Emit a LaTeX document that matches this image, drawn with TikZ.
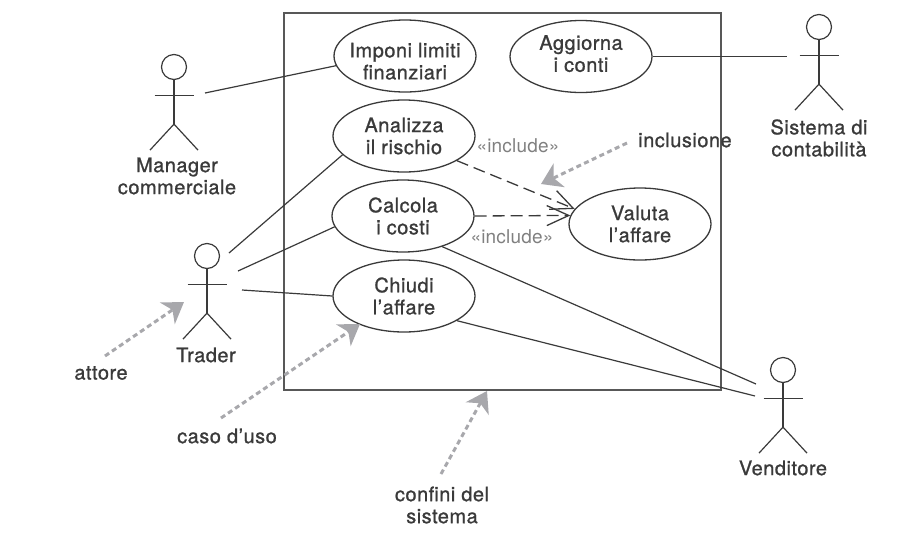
\documentclass[tikz,border=0pt]{standalone}
\usepackage{fontspec}
\usepackage{tikz}
\setmainfont[FakeBold=1,LetterSpace=2.5]{TeX Gyre Heros}
\newfontfamily\stereofont[LetterSpace=1]{TeX Gyre Heros}
\usetikzlibrary{positioning,arrows.meta,shapes.geometric}
\definecolor{inkgray}{HTML}{3A3A3A}
\definecolor{notegray}{HTML}{A8A8AC}
\tikzset{
    usecase/.style={ellipse, draw=inkgray, line width=1.3pt, minimum width=142pt, minimum height=72pt, inner sep=-20pt, align=center, font=\fontsize{20}{22}\selectfont, text=inkgray},
    actorhead/.style={circle, draw=inkgray, line width=1.2pt, minimum size=25pt, inner sep=0pt},
    actorline/.style={draw=inkgray, line width=1.2pt},
    label/.style={align=center, inner sep=0pt, font=\fontsize{20}{22}\selectfont, text=inkgray},
    stereo/.style={inner sep=0pt, font=\stereofont\fontsize{19}{22}\selectfont, text=gray},
    assoc/.style={draw=inkgray, line width=1.2pt},
    incl/.style={draw=inkgray, line width=1.3pt, dash pattern=on 12pt off 6pt, -{Straight Barb[length=22pt,width=20pt]}},
    note/.style={draw=notegray, line width=3pt, dash pattern=on 5pt off 3.5pt, -{Stealth[length=20pt,width=26pt,inset=6pt]}}
}
\newcommand{\actor}[2]{
    \node[actorhead] (#1) at (#2) {};
    \draw[actorline] (#1.south) -- ++(0,44) coordinate (#1hip);
    \draw[actorline] ([xshift=-19.5pt,yshift=-28.5pt]#1.center) -- ([xshift=19.5pt,yshift=-28.5pt]#1.center);
    \draw[actorline] ([xshift=-24pt,yshift=-26pt]#1hip) -- (#1hip) -- ([xshift=24pt,yshift=-26pt]#1hip);
}
\begin{document}
\begin{tikzpicture}[x=1pt,y=-1pt]
    \useasboundingbox (0,0) rectangle (914,550);

    % System boundary
    \draw[draw=inkgray!85, line width=1.6pt] (284,13) rectangle (721,390);

    % Use cases
    \node[usecase] (imponi) at (405,56) {\rule{0pt}{25pt}Imponi limiti\\finanziari};
    \node[usecase] (aggiorna) at (581,56.5) {Aggiorna\\i conti\rule[-6pt]{0pt}{6pt}};
    \node[usecase] (analizza) at (404,136) {Analizza\\il rischio};
    \node[usecase] (calcola) at (403,216) {Calcola\\i costi};
    \node[usecase] (chiudi) at (404,296) {Chiudi\\l'affare};
    \node[usecase] (valuta) at (640,224) {Valuta\\l'affare};

    % Actors
    \actor{manager}{174,67}
    \actor{trader}{207,256}
    \actor{sistema}{819,27}
    \actor{venditore}{783,370}
    \node[label] (managerlabel) at (177,176) {Manager\\commerciale};
    \node[label] (traderlabel) at (206,355) {Trader};
    \node[label] (sistemalabel) at (819,138) {Sistema di\\contabilità};
    \node[label] (venditorelabel) at (783,468) {Venditore};

    % Free ends of the associations
    \coordinate (managerend) at (205,93);
    \coordinate (traderendA) at (229,253);
    \coordinate (traderendB) at (238,271);
    \coordinate (traderendC) at (242,290);
    \coordinate (venditoreendA) at (756,384);
    \coordinate (venditoreendB) at (755,396);
    \coordinate (sistemaend) at (787,56.5);

    % Associations
    \draw[assoc] (managerend) -- (imponi.188);
    \draw[assoc] (traderendA) -- (analizza.197);
    \draw[assoc] (traderendB) -- (calcola.189);
    \draw[assoc] (traderendC) -- (chiudi.west);
    \draw[assoc] (calcola.322) -- (venditoreendA);
    \draw[assoc] (chiudi.335) -- (venditoreendB);
    \draw[assoc] (aggiorna.east) -- (sistemaend);

    % Include relations
    \draw[incl] (analizza.335) -- (valuta.167);
    \draw[incl] (calcola.east) -- (valuta.173);
    \node[stereo] (includeA) at (518,146) {«include»};
    \node[stereo] (includeB) at (512,237) {«include»};

    % Annotations
    \node[label] (attore) at (101,373) {attore};
    \node[label] (casouso) at (227,436) {caso d'uso};
    \node[label] (confini) at (442,505) {confini del\\sistema};
    \node[label] (inclusione) at (685,140) {inclusione};
    \coordinate (attorestart) at (105,356);
    \coordinate (attoretip) at (184,302);
    \coordinate (casostart) at (221,418);
    \coordinate (casotip) at (360,324);
    \coordinate (confinistart) at (441,474);
    \coordinate (confinitip) at (487,391);
    \coordinate (inclstart) at (627,143);
    \coordinate (incltip) at (541,184);
    \draw[note] (attorestart) -- (attoretip);
    \draw[note] (casostart) -- (casotip);
    \draw[note] (confinistart) -- (confinitip);
    \draw[note] (inclstart) -- (incltip);
\end{tikzpicture}
\end{document}
